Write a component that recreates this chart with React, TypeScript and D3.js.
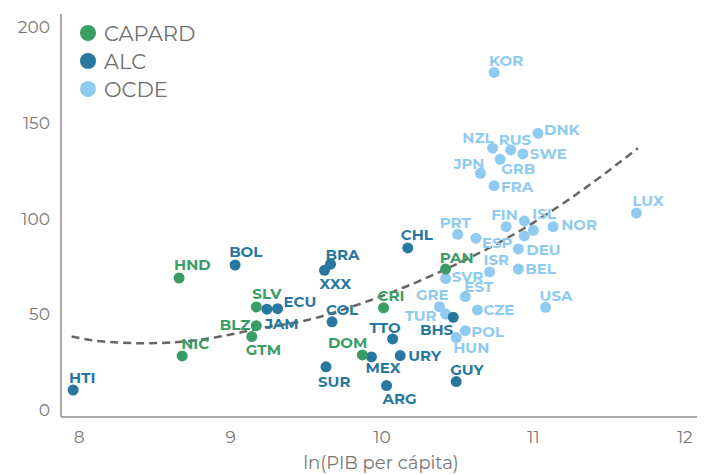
import React from "react";
import * as d3 from "d3";

// ln(GDP per capita) vs index
const capardCodes = ["HND", "NIC", "SLV", "BLZ", "GTM", "CRI", "DOM", "PAN"];
const capardX = [8.66, 8.68, 9.17, 9.17, 9.14, 10.01, 9.87, 10.42];
const capardY = [68.9, 28.2, 53.8, 44.0, 38.3, 53.3, 28.7, 73.6];

const alcCodes = ["HTI", "BOL", "JAM", "ECU", "BRA", "XXX", "CHL", "COL", "MEX", "SUR", "ARG", "TTO", "URY", "BHS", "GUY"];
const alcX = [7.96, 9.03, 9.24, 9.31, 9.66, 9.62, 10.17, 9.67, 9.93, 9.63, 10.03, 10.07, 10.12, 10.47, 10.49];
const alcY = [10.4, 75.7, 52.6, 52.9, 76.1, 72.9, 84.6, 46.0, 27.7, 22.5, 12.7, 37.1, 28.4, 48.4, 14.8];

const ocdeCodes = ["SVR", "GRE", "TUR", "POL", "HUN", "EST", "CZE", "ISR", "USA", "PRT", "ESP", "FIN", "ISL", "AUT", "NLD", "NOR", "DEU", "BEL", "LUX", "KOR", "DNK", "NZL", "RUS", "SWE", "GRB", "JPN", "FRA"];
const ocdeX = [10.42, 10.38, 10.42, 10.55, 10.49, 10.55, 10.63, 10.71, 11.08, 10.5, 10.62, 10.82, 10.94, 11.0, 10.94, 11.13, 10.9, 10.9, 11.68, 10.74, 11.03, 10.73, 10.85, 10.93, 10.78, 10.65, 10.74];
const ocdeY = [68.6, 53.9, 50.1, 41.4, 37.8, 59.2, 52.2, 72.1, 53.6, 91.7, 89.7, 95.7, 98.7, 93.8, 90.9, 95.7, 84.1, 73.6, 102.9, 176.3, 144.5, 136.7, 135.8, 133.7, 130.9, 123.6, 117.1];

// dashed trend curve
const trendX = [7.95, 8.16, 8.43, 8.69, 8.93, 9.2, 9.51, 9.8, 10.41, 10.92, 11.23, 11.69];
const trendY = [38.3, 35.7, 34.8, 35.7, 38.3, 42.7, 47.0, 53.9, 73.1, 94.0, 109.7, 136.7];

const xTicks = [8, 9, 10, 11, 12];
const yTicks = [0, 50, 100, 150, 200];

const groups = [
  { name: "CAPARD", color: "#3a9d66", codes: capardCodes, xs: capardX, ys: capardY },
  { name: "ALC", color: "#27779f", codes: alcCodes, xs: alcX, ys: alcY },
  { name: "OCDE", color: "#8fcbf0", codes: ocdeCodes, xs: ocdeX, ys: ocdeY },
];

// label placement: [dx, dy, anchor] relative to the dot, null = no label
const labelPos: Record<string, [number, number, string] | null> = {
  HTI: [-4, -12, "start"], HND: [-5, -13, "start"], NIC: [-1, -12, "start"],
  BOL: [-6, -13, "start"], SLV: [-4, -13, "start"], JAM: [-2, 14, "start"],
  ECU: [6, -7, "start"], BLZ: [-6, -1.5, "end"], GTM: [-6, 13.5, "start"],
  BRA: [-5, -10, "start"], XXX: [-5, 13, "start"], CHL: [-7, -13, "start"],
  CRI: [-6, -12, "start"], COL: [-6, -12, "start"], DOM: [5, -12, "end"],
  MEX: [-6, 11, "start"], SUR: [-8, 15, "start"], ARG: [-4, 12.5, "start"],
  TTO: [8, -11, "end"], URY: [8, 0, "start"], PAN: [-6, -11, "start"],
  SVR: [6, -1.5, "start"], GRE: [9, -12, "end"], TUR: [-9, 2, "end"],
  BHS: [0, 12, "end"], POL: [6, 1, "start"], HUN: [-3, 10.5, "start"],
  GUY: [-6, -12, "start"], EST: [-1, -10, "start"], CZE: [6, 0, "start"],
  ISR: [-6, -12, "start"], USA: [-6, -12, "start"], PRT: [-18, -12, "start"],
  ESP: [6, 4, "start"], FIN: [-15, -12, "start"], ISL: [8, -7, "start"],
  AUT: null, NLD: null, NOR: [8, -2, "start"], DEU: [8, 1, "start"],
  BEL: [7, 0, "start"], LUX: [-4, -12, "start"], KOR: [-5, -12, "start"],
  DNK: [6, -4, "start"], NZL: [1, -11, "end"], RUS: [-12, -10, "start"],
  SWE: [7, 0, "start"], GRB: [1, 9, "start"], JPN: [4, -10, "end"],
  FRA: [7, 1, "start"],
};

const width = 712;
const height = 475;
const font = "Montserrat, 'Open Sans', sans-serif";

export default function App() {
  const x = d3.scaleLinear().domain([7.88, 12.08]).range([61, 697]);
  const y = d3.scaleLinear().domain([-3.7, 206.8]).range([417, 14]);

  const trend = d3
    .line<number>()
    .x((d) => x(d))
    .y((_, i) => y(trendY[i]))
    .curve(d3.curveMonotoneX)(trendX);

  // draw OCDE first so the regional dots sit on top
  const drawOrder = [groups[2], groups[1], groups[0]];

  return (
    <svg
      width={width}
      height={height}
      style={{ position: "absolute", left: 0, top: 0, background: "#fff", fontFamily: font }}
    >
      {/* axes */}
      <line x1={61} x2={61} y1={14} y2={417} stroke="#a9a9a9" strokeWidth={2} />
      <line x1={61} x2={697} y1={417} y2={417} stroke="#a9a9a9" strokeWidth={2} />
      {yTicks.map((t) => (
        <text key={t} x={50} y={y(t)} dy="0.36em" textAnchor="end" fontSize={17} fill="#777">
          {t}
        </text>
      ))}
      {xTicks.map((t) => (
        <text key={t} x={x(t)} y={437} dy="0.36em" textAnchor="middle" fontSize={17} fill="#777">
          {t}
        </text>
      ))}
      <text x={381} y={469} textAnchor="middle" fontSize={18} fill="#777">
        ln(PIB per cápita)
      </text>

      <path d={trend || ""} fill="none" stroke="#666" strokeWidth={2.5} strokeDasharray="8,5" />

      {drawOrder.map((g) =>
        g.codes.map((c, i) => {
          const cx = x(g.xs[i]);
          const cy = y(g.ys[i]);
          const lp = labelPos[c];
          return (
            <g key={c}>
              <circle cx={cx} cy={cy} r={5.5} fill={g.color} />
              {lp && (
                <text
                  x={cx + lp[0]}
                  y={cy + lp[1]}
                  dy="0.36em"
                  textAnchor={lp[2]}
                  fontSize={15}
                  fontWeight="bold"
                  fill={g.color}
                >
                  {c}
                </text>
              )}
            </g>
          );
        })
      )}

      {/* legend */}
      {groups.map((g, i) => (
        <g key={g.name} transform={`translate(88, ${33 + i * 28})`}>
          <circle r={8} fill={g.color} />
          <text x={16} dy="0.36em" fontSize={21} fill="#6f6f6f">
            {g.name}
          </text>
        </g>
      ))}
    </svg>
  );
}
